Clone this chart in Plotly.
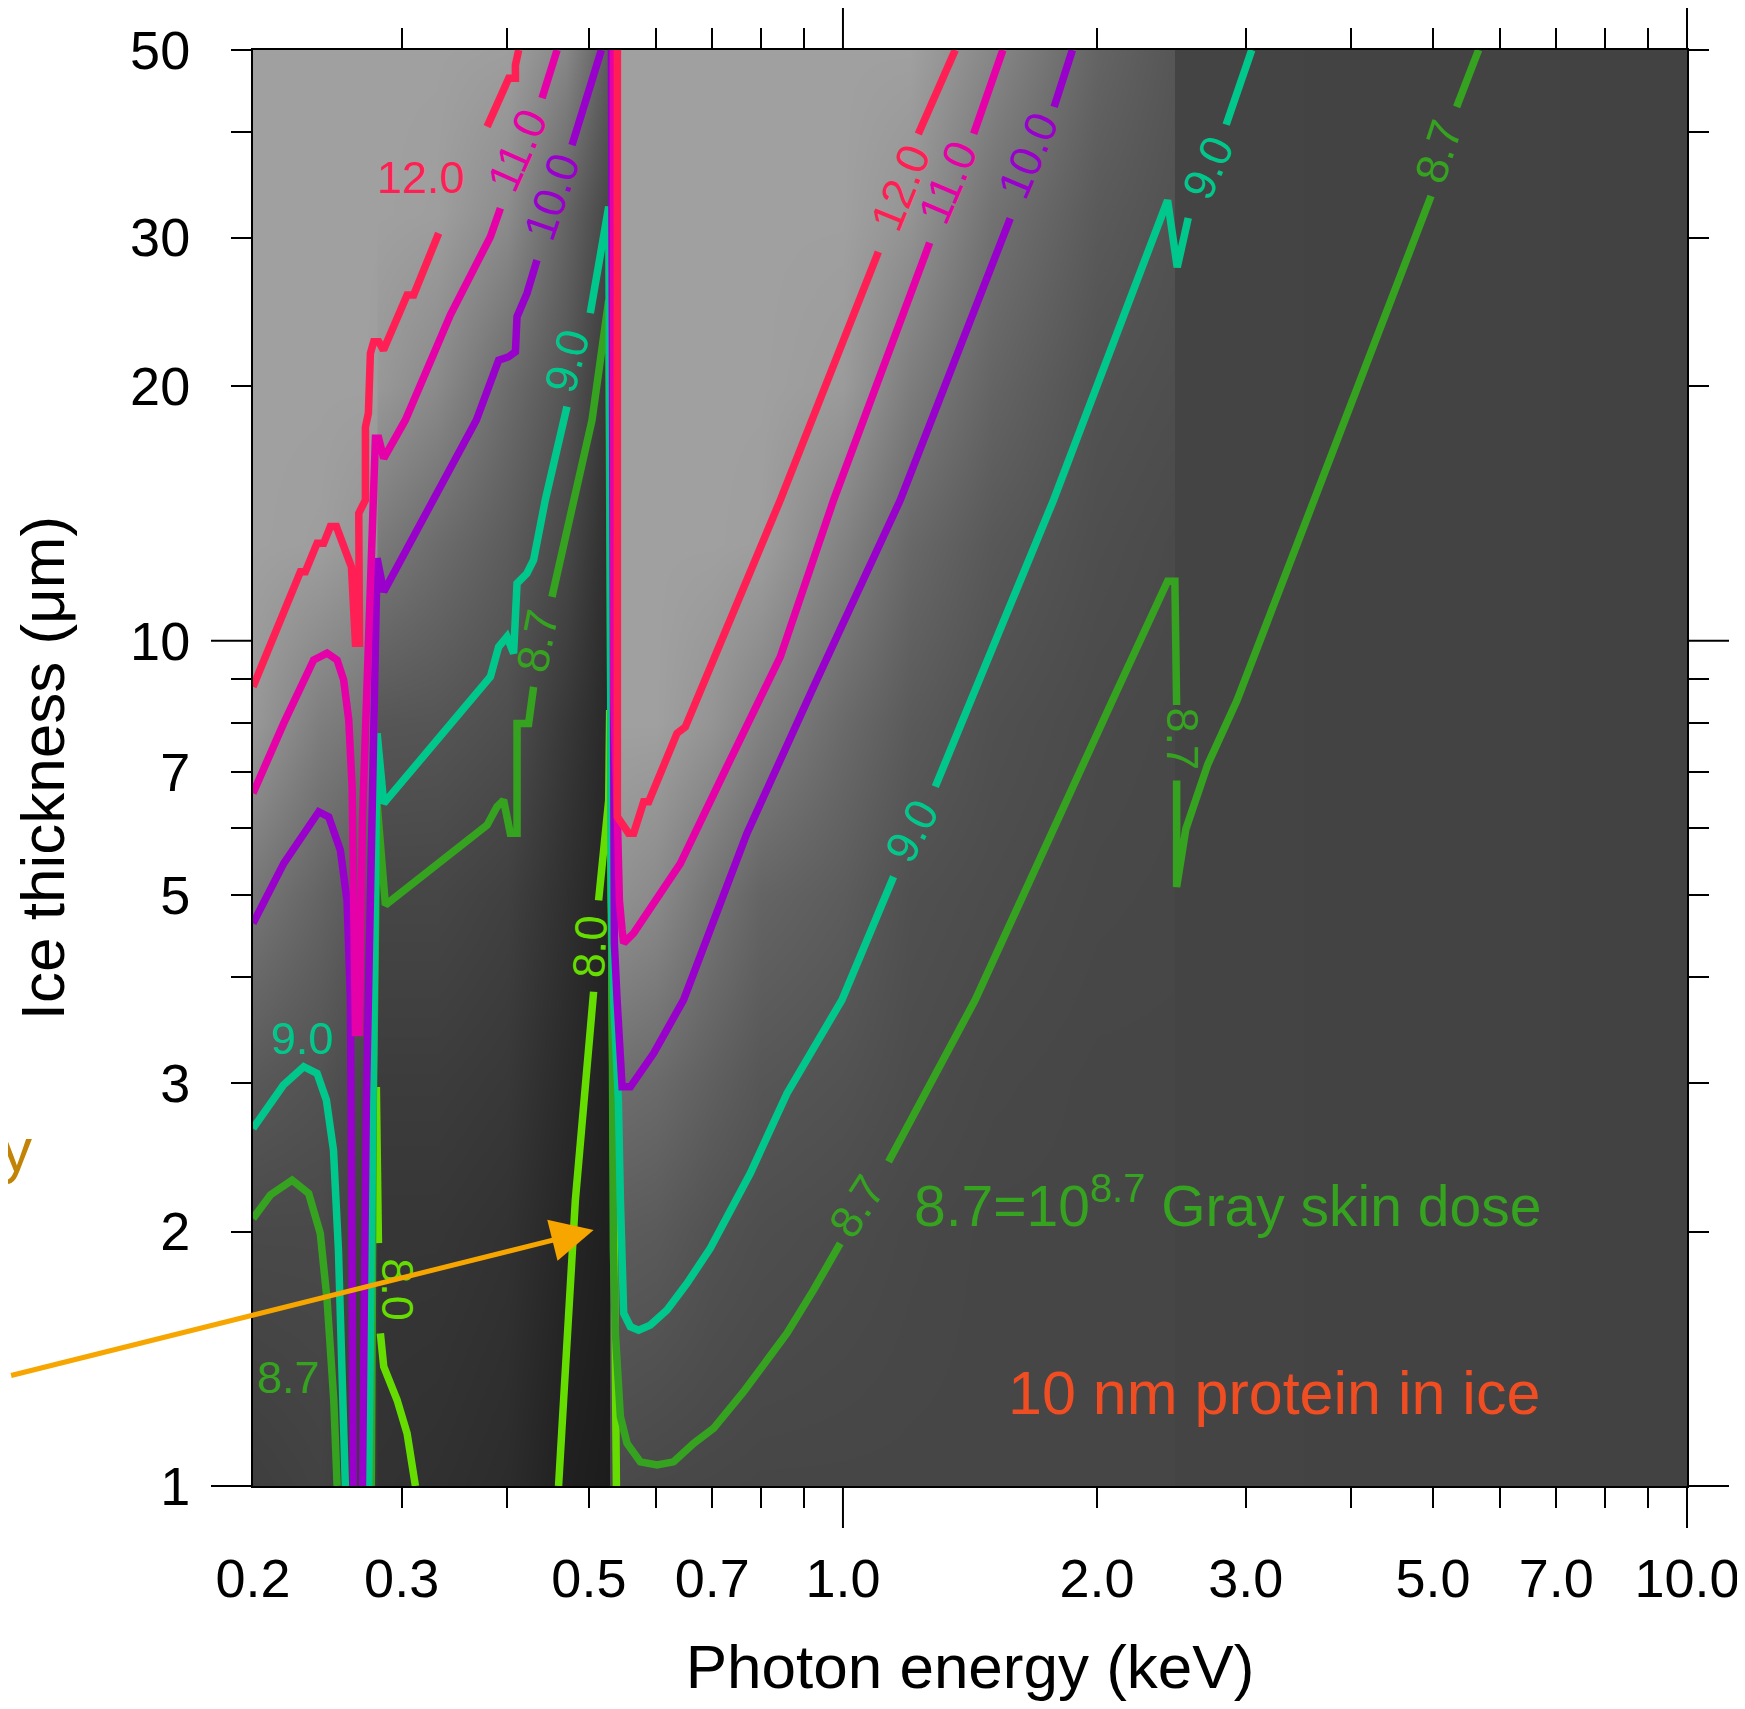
import numpy as np
import plotly.graph_objects as go

FONT = "Liberation Sans, Arial, Helvetica, sans-serif"

# ---------------- background gray map ----------------
bg_energy = [0.2, 0.24, 0.27, 0.2795, 0.28, 0.281, 0.2815, 0.33, 0.4, 0.47, 0.5285, 0.529,
             0.5295, 0.53, 0.6, 0.7, 0.8, 1.0, 1.2, 1.5, 2.0, 2.468, 2.472, 2.476, 2.48, 10.0]
bg_thickness = [1, 2, 3, 5, 8, 13, 20, 32, 50]
bg_gray_by_energy = [
    [62, 73, 88, 118, 152, 160, 160, 160, 160],
    [66, 73, 82, 100, 126, 158, 160, 160, 160],
    [58, 64, 72, 88, 118, 150, 160, 160, 160],
    [55, 60, 68, 84, 112, 145, 158, 160, 160],
    [55, 60, 68, 84, 112, 145, 158, 160, 160],
    [50, 54, 60, 70, 86, 122, 152, 160, 160],
    [50, 54, 60, 70, 86, 122, 152, 160, 160],
    [48, 54, 60, 70, 85, 108, 138, 158, 160],
    [44, 50, 56, 64, 78, 92, 108, 140, 158],
    [32, 38, 42, 48, 56, 72, 85, 100, 135],
    [28, 31, 33, 36, 40, 46, 55, 70, 92],
    [28, 31, 33, 36, 40, 46, 55, 70, 92],
    [74, 92, 110, 146, 160, 160, 160, 160, 160],
    [74, 92, 110, 146, 160, 160, 160, 160, 160],
    [72, 90, 106, 138, 160, 160, 160, 160, 160],
    [71, 82, 95, 116, 148, 160, 160, 160, 160],
    [70, 78, 86, 100, 130, 158, 160, 160, 160],
    [70, 75, 82, 92, 106, 130, 155, 160, 160],
    [70, 72, 76, 80, 90, 104, 125, 148, 160],
    [70, 70, 72, 76, 80, 88, 100, 114, 135],
    [70, 70, 70, 72, 74, 78, 82, 90, 100],
    [70, 70, 70, 71, 72, 74, 78, 82, 86],
    [70, 70, 70, 71, 72, 74, 78, 82, 86],
    [68, 68, 68, 68, 68, 68, 68, 68, 68],
    [68, 68, 68, 68, 68, 68, 68, 68, 68],
    [66, 66, 66, 66, 66, 66, 66, 66, 66],
]

# ---------------- contour lines: photon energy (keV) / ice thickness (um) ----------------
c80_energy = [0.28, 0.2816, None, 0.2831, 0.2857, 0.2963, 0.3045, 0.3115, None,
              0.4603, 0.4819, 0.5065, None, 0.5134, 0.5278, 0.5292, 0.5331, 0.539]
c80_thick = [2.965, 1.938, None, 1.516, 1.384, 1.264, 1.154, 1.0, None,
             1.0, 2.179, 3.844, None, 4.93, 6.48, 8.281, 2.862, 1.0]

c87_energy = [0.2, 0.2097, 0.2225, 0.2328, 0.2403, 0.2448, 0.2493, 0.2516, None,
              0.2762, 0.2777, 0.2806, 0.287, 0.3788, 0.3891, 0.3962, 0.4035, 0.411, 0.411, 0.4242, 0.43, None,
              0.4521, 0.5043, 0.5278, 0.5303, 0.5317, 0.5346, 0.5375, 0.5449, 0.5549, 0.5754, 0.6022, 0.63,
              0.6653, 0.7026, 0.7626, 0.8584, 0.923, 0.9927, None,
              1.1325, 1.4346, 2.087, 2.4244, 2.4732, 2.485, None,
              2.485, 2.485, 2.5484, 2.7056, 2.931, 4.9748, None, 5.3342, 5.6636]
c87_thick = [2.073, 2.21, 2.301, 2.219, 1.99, 1.66, 1.264, 1.0, None,
             1.0, 2.862, 6.421, 4.868, 6.053, 6.362, 6.48, 5.92, 5.92, 7.985, 7.985, 8.82, None,
             11.27, 18.25, 25.3, 8.509, 3.76, 1.902, 1.516, 1.208, 1.123, 1.068, 1.059, 1.068,
             1.123, 1.17, 1.293, 1.516, 1.706, 1.937, None,
             2.419, 3.76, 8.509, 11.76, 11.76, 8.394, None,
             6.833, 5.114, 5.989, 7.141, 8.509, 33.59, None, 42.82, 50]

c90_energy = [0.2, 0.2173, 0.2297, 0.2382, 0.2443, 0.2491, 0.2525, 0.2552, 0.2573, None,
              0.2742, 0.277, 0.2793, 0.2806, 0.2857, 0.3822, 0.3909, 0.3999, 0.4072, 0.411, 0.4223, 0.43,
              0.4439, 0.471, None,
              0.5019, 0.5278, 0.5303, 0.5317, 0.535, 0.5419, 0.5449, 0.5498, 0.56, 0.5727, 0.5913, 0.6188,
              0.6535, 0.6715, 0.6963, 0.7766, 0.8584, 0.9973, 1.148, None,
              1.2864, 1.7761, 2.4244, 2.489, 2.5652, None, 2.8444, 3.05]
c90_thick = [2.649, 2.981, 3.134, 3.078, 2.862, 2.497, 1.902, 1.335, 1.0, None,
             1.0, 2.862, 4.93, 7.77, 6.421, 9.067, 9.839, 10.11, 9.664, 11.69, 12.02, 12.46,
             14.67, 18.92, None,
             24.41, 32.63, 11.17, 4.93, 3.76, 2.862, 2.179, 1.601, 1.543, 1.529, 1.55, 1.615,
             1.737, 1.817, 1.911, 2.344, 2.914, 3.76, 5.258, None,
             6.72, 14.67, 33.2, 27.67, 31.64, None, 40.8, 50]

c100_energy = [0.2, 0.2175, 0.2393, 0.2459, 0.2538, 0.2585, 0.2609, 0.2623, 0.263, None,
               0.2696, 0.2725, 0.277, 0.2806, 0.2857, 0.3679, 0.3909, 0.4018, 0.4092, 0.411, 0.4223,
               0.4281, 0.434, None, 0.4775, 0.5174, None,
               0.5317, 0.5331, 0.536, 0.54, 0.5474, 0.56, 0.5966, 0.6474, 0.7697, 0.923, 1.1692, 1.5784,
               None, 1.779, 1.87]
c100_thick = [4.631, 5.454, 6.277, 6.19, 5.655, 4.93, 3.76, 2.179, 1.0, None,
              1.0, 2.862, 6.48, 12.52, 11.43, 18.25, 21.48, 21.68, 21.97, 24.18, 25.76,
              27.2, 28.21, None, 38.59, 50, None,
              50, 6.48, 4.389, 3.76, 2.967, 2.967, 3.25, 3.76, 5.92, 8.82, 14.67, 31.61,
              None, 42.82, 50]

c110_energy = [0.2, 0.2175, 0.236, 0.2448, 0.2516, 0.2561, 0.2597, 0.2621, 0.2645, 0.2674, 0.2696,
               0.2793, 0.2818, 0.2857, 0.3031, 0.3427, 0.3822, 0.3928, None, 0.44, 0.4585, None,
               0.5346, 0.5353, 0.5404, 0.5434, 0.5474, 0.5498, 0.565, 0.6416, 0.7288, 0.8428, 0.9748,
               1.2669, None, 1.4284, 1.5469]
c110_thick = [6.6, 7.99, 9.49, 9.67, 9.49, 8.99, 8.06, 6.72, 3.44, 3.44, 6.14,
              17.36, 17.36, 16.44, 18.25, 24.3, 30.07, 32.49, None, 43.85, 50, None,
              50, 8.51, 6.19, 4.93, 4.55, 4.39, 4.51, 5.45, 7.1, 9.57, 14.67,
              29.57, None, 39.81, 50]

c120_energy = [0.2, 0.2276, 0.2307, 0.2382, 0.2425, 0.247, 0.2511, 0.2616, 0.2645, 0.2674, 0.2669,
               0.2718, 0.2718, 0.274, 0.2755, 0.278, 0.2818, 0.2855, 0.3045, 0.31, 0.3319, None,
               0.3788, 0.4018, 0.4092, 0.4092, 0.4129, None,
               0.5404, 0.5404, 0.5572, 0.565, 0.5806, 0.5886, 0.6359, 0.6505, 0.8428, 1.1013, None,
               1.2281, 1.3584]
c120_thick = [8.82, 12.07, 12.07, 13.04, 13.04, 13.65, 13.65, 12.23, 9.93, 9.93, 14.15,
              14.68, 17.91, 18.59, 21.88, 22.59, 22.59, 22.08, 25.65, 25.65, 30.35, None,
              40.58, 46.29, 46.29, 48.0, 50, None,
              50, 6.19, 5.92, 5.92, 6.45, 6.45, 7.77, 7.91, 14.67, 28.84, None,
              39.77, 50]

x_tick_vals = [0.2, 0.3, 0.5, 0.7, 1.0, 2.0, 3.0, 5.0, 7.0, 10.0]
x_tick_text = ["0.2", "0.3", "0.5", "0.7", "1.0", "2.0", "3.0", "5.0", "7.0", "10.0"]
x_minor_vals = [0.3, 0.4, 0.5, 0.6, 0.7, 0.8, 0.9, 2, 3, 4, 5, 6, 7, 8, 9]
y_tick_vals = [1, 2, 3, 5, 7, 10, 20, 30, 50]
y_tick_text = ["1", "2", "3", "5", "7", "10", "20", "30", "50"]
y_minor_vals = [2, 3, 4, 5, 6, 7, 8, 9, 20, 30, 40, 50]
major_vals = [1, 10]

COL = {"8.0": "#66DD00", "8.7": "#35A31F", "9.0": "#00C88C",
       "10.0": "#9900CC", "11.0": "#E600A8", "12.0": "#FF1F55"}

contours = [
    ("8.0", c80_energy, c80_thick),
    ("8.7", c87_energy, c87_thick),
    ("9.0", c90_energy, c90_thick),
    ("10.0", c100_energy, c100_thick),
    ("11.0", c110_energy, c110_thick),
    ("12.0", c120_energy, c120_thick),
]

fig = go.Figure()
fig.add_trace(go.Heatmap(
    x=bg_energy, y=bg_thickness, z=np.array(bg_gray_by_energy).T.tolist(),
    colorscale=[[0, "rgb(0,0,0)"], [1, "rgb(255,255,255)"]], zmin=0, zmax=255,
    zsmooth="best", showscale=False, hoverinfo="skip"))

for lev, e, t in contours:
    fig.add_trace(go.Scatter(x=e, y=t, mode="lines", connectgaps=False,
                             line=dict(color=COL[lev], width=7.5),
                             hoverinfo="skip", showlegend=False))

# contour labels: (text, energy, thickness, angle)
labels = [
    ("12.0", 0.3164, 35.34, 0), ("11.0", 0.411, 38.06, -66), ("10.0", 0.4521, 33.53, -71),
    ("9.0", 0.471, 21.48, -75), ("8.7", 0.434, 10.02, -79), ("8.0", 0.5019, 4.345, -87),
    ("8.0", 0.296, 1.706, 90), ("12.0", 1.1695, 34.42, -68), ("11.0", 1.3316, 34.84, -67),
    ("10.0", 1.6592, 37.46, -67), ("9.0", 2.7056, 36.35, -66), ("8.7", 5.0748, 37.92, -72),
    ("9.0", 1.207, 5.97, -62), ("8.7", 1.0391, 2.14, -57), ("8.7", 2.5234, 7.656, 90),
    ("9.0", 0.2292, 3.38, 0), ("8.7", 0.2204, 1.344, 0),
]
for txt, e, t, ang in labels:
    fig.add_annotation(x=np.log10(e), y=np.log10(t), text=txt, textangle=ang, showarrow=False,
                       xanchor="center", yanchor="middle",
                       font=dict(size=45, color=COL[txt], family=FONT))

fig.add_annotation(x=np.log10(1.208), y=np.log10(2.17), xanchor="left", yanchor="middle",
                   text="8.7=10<sup>8.7</sup> Gray skin dose", showarrow=False,
                   font=dict(size=57, color="#35A31F", family=FONT))
fig.add_annotation(x=np.log10(1.5613), y=np.log10(1.288), xanchor="left", yanchor="middle",
                   text="10 nm protein in ice", showarrow=False,
                   font=dict(size=61, color="#F04E22", family=FONT))
# partial word cut at the left edge of the original figure
fig.add_annotation(xref="paper", yref="paper", x=-0.1650, y=0.2345, xanchor="center", yanchor="middle",
                   text="y", showarrow=False, font=dict(size=62, color="#C28407", family=FONT))
fig.add_annotation(x=np.log10(0.5065), y=np.log10(2.009), ax=-584, ay=146,
                   axref="pixel", ayref="pixel", text="", showarrow=True,
                   arrowhead=2, arrowsize=1.7, arrowwidth=5, arrowcolor="#F7A600", standoff=0)

# long ticks at 1 and 10 (drawn on all four sides)
xr = [np.log10(0.2), 1.0]
yr = [0.0, np.log10(50)]
W, H = 1434, 1436
LONG = 42
for v in major_vals:
    px = (np.log10(v) - xr[0]) / (xr[1] - xr[0])
    fig.add_shape(type="line", xref="paper", yref="paper", x0=px, x1=px, y0=0, y1=-LONG / H,
                  line=dict(color="black", width=2))
    fig.add_shape(type="line", xref="paper", yref="paper", x0=px, x1=px, y0=1, y1=1 + LONG / H,
                  line=dict(color="black", width=2))
    py = (np.log10(v) - yr[0]) / (yr[1] - yr[0])
    fig.add_shape(type="line", xref="paper", yref="paper", y0=py, y1=py, x0=0, x1=-LONG / W,
                  line=dict(color="black", width=2))
    fig.add_shape(type="line", xref="paper", yref="paper", y0=py, y1=py, x0=1, x1=1 + LONG / W,
                  line=dict(color="black", width=2))

fig.update_layout(
    width=1737, height=1693,
    margin=dict(l=245, r=58, t=42, b=215, pad=0),
    paper_bgcolor="white", plot_bgcolor="white",
    font=dict(family=FONT, color="black"),
    showlegend=False,
    xaxis=dict(type="log", range=xr, tickmode="array", tickvals=x_tick_vals, ticktext=x_tick_text,
               ticks="", showline=True, linecolor="black", linewidth=2, mirror="ticks",
               showgrid=False, zeroline=False, automargin=False, ticklabeloverflow="allow",
               tickfont=dict(size=54, family=FONT, color="black"), ticklabelstandoff=44,
               minor=dict(tickmode="array", tickvals=x_minor_vals, ticks="outside", ticklen=20,
                          tickwidth=2, tickcolor="black", showgrid=False),
               title=dict(text="Photon energy (keV)", font=dict(size=62, family=FONT), standoff=60)),
    yaxis=dict(type="log", range=yr, tickmode="array", tickvals=y_tick_vals, ticktext=y_tick_text,
               ticks="", showline=True, linecolor="black", linewidth=2, mirror="ticks",
               showgrid=False, zeroline=False, automargin=False, ticklabeloverflow="allow",
               tickfont=dict(size=54, family=FONT, color="black"), ticklabelstandoff=50,
               minor=dict(tickmode="array", tickvals=y_minor_vals, ticks="outside", ticklen=20,
                          tickwidth=2, tickcolor="black", showgrid=False),
               title=dict(text="Ice thickness (μm)", font=dict(size=62, family=FONT), standoff=45)),
)

fig.write_html("out.html")
